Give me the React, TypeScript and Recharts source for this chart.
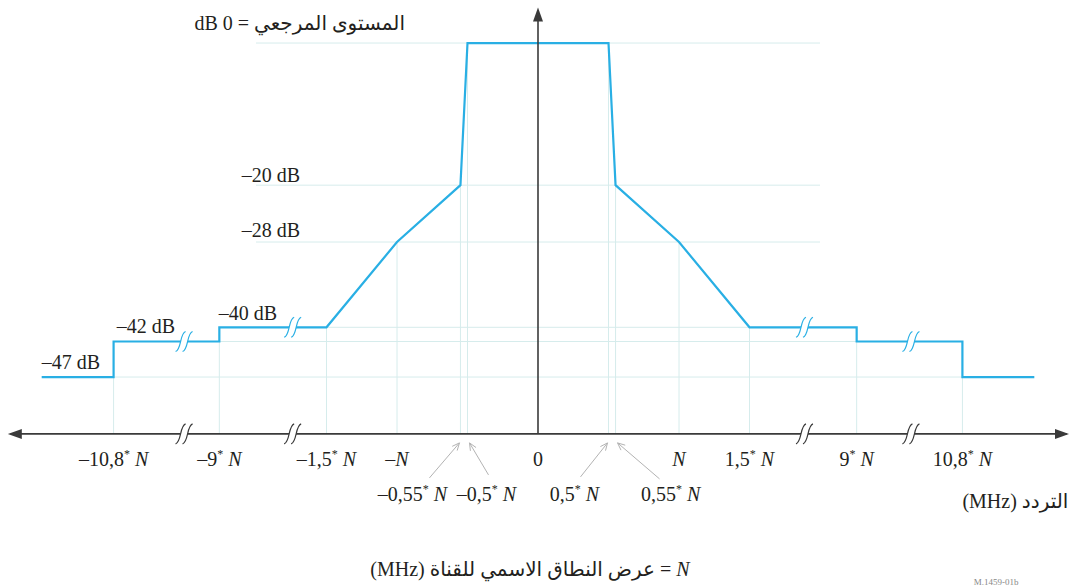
import React from 'react';
import { LineChart, Line, XAxis, YAxis, ReferenceLine, ReferenceDot } from 'recharts';

// Display positions on the (broken) frequency axis, in units of N near the centre
const maskX = [-3.52, -3.01, -3.01, -2.26, -2.26, -1.5, -1, -0.55, -0.5, 0.5, 0.55, 1, 1.5, 2.26, 2.26, 3.01, 3.01, 3.52];
// Mask level (dB)
const maskDb = [-47, -47, -42, -42, -40, -40, -28, -20, 0, 0, -20, -28, -40, -40, -42, -42, -47, -47];

const mainTicks = [-3.01, -2.26, -1.5, -1, 0, 1, 1.5, 2.26, 3.01];
const mainTickLabels = ['–10,8* N', '–9* N', '–1,5* N', '–N', '0', 'N', '1,5* N', '9* N', '10,8* N'];
const lowerTicks = [-0.55, -0.5, 0.5, 0.55];
const lowerTickLabels = ['–0,55* N', '–0,5* N', '0,5* N', '0,55* N'];

const gridLevels = [0, -20, -28, -40, -42, -47];
const gridSpan = [2.0, 2.0, 2.0, 1.5, 2.26, 3.01];
const vGridX = [-3.01, -2.26, -1.5, -1, -0.55, -0.5, 0.5, 0.55, 1, 1.5, 2.26, 3.01];
const vGridTop = [-42, -40, -40, -28, -20, 0, 0, -20, -28, -40, -40, -42];

const breakX = [-2.51, -1.74, 1.89, 2.645];
const breakLevel = [-42, -40, -40, -42];

const dbLabels = ['–47 dB', '–42 dB', '–40 dB', '–28 dB', '–20 dB'];
const dbLevels = [-47, -42, -40, -28, -20];

const titleText = 'dB 0 = المستوى المرجعي';
const freqText = '(MHz) التردد';
const captionText = '(MHz) عرض النطاق الاسمي للقناة = ';
const figId = 'M.1459-01b';

// layout (positions / styles only)
const X_DOMAIN: [number, number] = [-3.76, 3.78];
const Y_DOMAIN: [number, number] = [-55, 5];
const AXIS_MIN = -55;
const dbLabelX = [-3.106, -2.574, -1.851, -1.688, -1.688];
const dbLabelDy = [-8, -9, -7, -5, -3];
const lowerLayout = [
  { lx: -48, tx: -31, ty: 44, hx: -1 },
  { lx: 19, tx: 21, ty: 41, hx: 2 },
  { lx: -34, tx: -28, ty: 43, hx: -1 },
  { lx: 55, tx: 44, ty: 45, hx: 2 },
];

const CURVE = '#29afe4';
const AXIS = '#3a3a3a';
const GRID = '#d6ecec';
const TEXT = '#231f20';
const FONT = "'Liberation Serif', 'Times New Roman', 'DejaVu Serif', 'DejaVu Sans', serif";
const FS = 20;

const maskData = maskX.map((x, i) => ({ x, db: maskDb[i] }));

function labelSpans(s: string) {
  if (s.includes('*')) {
    const [num] = s.split('*');
    return [
      <tspan key="a">{num}</tspan>,
      <tspan key="b" fontSize={12} dy={-8}>*</tspan>,
      <tspan key="c" dy={8}>{' '}</tspan>,
      <tspan key="d" fontStyle="italic">N</tspan>,
    ];
  }
  if (s.endsWith('N')) {
    return [
      <tspan key="a">{s.slice(0, -1)}</tspan>,
      <tspan key="b" fontStyle="italic">N</tspan>,
    ];
  }
  return [<tspan key="a">{s}</tspan>];
}

const Tick = (props: any) => {
  const { x, y, payload } = props;
  const v = payload.value;
  const axisY = y - 8;
  const li = lowerTicks.indexOf(v);
  if (li >= 0) {
    const o = lowerLayout[li];
    const x1 = x + o.tx;
    const y1 = axisY + o.ty;
    const x2 = x + o.hx;
    const y2 = axisY + 9;
    const ang = Math.atan2(y2 - y1, x2 - x1);
    const hl = 8;
    const a = 0.42;
    const hx1 = x2 - hl * Math.cos(ang - a);
    const hy1 = y2 - hl * Math.sin(ang - a);
    const hx2 = x2 - hl * Math.cos(ang + a);
    const hy2 = y2 - hl * Math.sin(ang + a);
    return (
      <g>
        <line x1={x1} y1={y1} x2={x2} y2={y2} stroke="#b3b3b3" strokeWidth={1} />
        <polyline points={`${hx1},${hy1} ${x2},${y2} ${hx2},${hy2}`} fill="none" stroke="#b3b3b3" strokeWidth={1} />
        <text x={x + o.lx} y={axisY + 67} textAnchor="middle" fontFamily={FONT} fontSize={FS} fill={TEXT}>
          {labelSpans(lowerTickLabels[li])}
        </text>
      </g>
    );
  }
  const mi = mainTicks.indexOf(v);
  if (mi < 0) return <g />;
  return (
    <text x={x} y={axisY + 32} textAnchor="middle" fontFamily={FONT} fontSize={FS} fill={TEXT}>
      {labelSpans(mainTickLabels[mi])}
    </text>
  );
};

const breakShape = (color: string) => (p: any) => {
  const { cx, cy } = p;
  const t = `translate(${cx - 0.5},${cy})`;
  return (
    <g transform={t}>
      <path d="M -8 10 C -2 8 -4 -8 2 -10 L 9 -10 C 3 -8 5 8 -1 10 Z" fill="#ffffff" stroke="none" />
      <path d="M -8 10 C -2 8 -4 -8 2 -10" fill="none" stroke={color} strokeWidth={1.2} />
      <path d="M -1 10 C 5 8 3 -8 9 -10" fill="none" stroke={color} strokeWidth={1.2} />
    </g>
  );
};

const arrowShape = (dir: 'left' | 'right' | 'up') => (p: any) => {
  const { cx, cy } = p;
  let pts = '';
  if (dir === 'left') pts = `${cx},${cy} ${cx + 14},${cy - 5} ${cx + 14},${cy + 5}`;
  if (dir === 'right') pts = `${cx},${cy} ${cx - 14},${cy - 5} ${cx - 14},${cy + 5}`;
  if (dir === 'up') pts = `${cx},${cy} ${cx - 5},${cy + 14} ${cx + 5},${cy + 14}`;
  return <polygon points={pts} fill={AXIS} />;
};

const textShape = (txt: React.ReactNode, anchor: string, dy: number) => (p: any) => {
  const { cx, cy } = p;
  return (
    <text x={cx} y={cy + dy} textAnchor={anchor} fontFamily={FONT} fontSize={FS} fill={TEXT}>
      {txt}
    </text>
  );
};

export default function App() {
  return (
    <div style={{ position: 'absolute', left: 0, top: 0, width: 1089, height: 588, background: '#fff', overflow: 'hidden' }}>
      <LineChart
        width={1089}
        height={588}
        data={maskData}
        margin={{ top: 7.5, right: 18.02, bottom: 44.1, left: 7.84 }}
      >
        <XAxis
          dataKey="x"
          type="number"
          domain={X_DOMAIN}
          allowDataOverflow
          ticks={[...mainTicks, ...lowerTicks]}
          interval={0}
          axisLine={false}
          tickLine={false}
          height={110}
          tick={<Tick />}
        />
        <YAxis hide type="number" domain={Y_DOMAIN} allowDataOverflow />

        {gridLevels.map((lv, i) => (
          <ReferenceLine
            key={`h${i}`}
            segment={[{ x: -gridSpan[i], y: lv }, { x: gridSpan[i], y: lv }]}
            stroke={GRID}
            strokeWidth={1}
            ifOverflow="visible"
          />
        ))}
        {vGridX.map((gx, i) => (
          <ReferenceLine
            key={`v${i}`}
            segment={[{ x: gx, y: vGridTop[i] }, { x: gx, y: AXIS_MIN }]}
            stroke={GRID}
            strokeWidth={1}
            ifOverflow="visible"
          />
        ))}

        <Line
          dataKey="db"
          type="linear"
          stroke={CURVE}
          strokeWidth={2.2}
          dot={false}
          activeDot={false}
          isAnimationActive={false}
        />

        {breakX.map((bx, i) => (
          <ReferenceDot key={`bc${i}`} x={bx} y={breakLevel[i]} r={1} ifOverflow="visible" shape={breakShape(CURVE)} />
        ))}

        <ReferenceLine
          segment={[{ x: -3.74, y: AXIS_MIN }, { x: 3.75, y: AXIS_MIN }]}
          stroke={AXIS}
          strokeWidth={1.6}
          ifOverflow="visible"
        />
        <ReferenceLine
          segment={[{ x: 0, y: AXIS_MIN }, { x: 0, y: 4 }]}
          stroke={AXIS}
          strokeWidth={1.6}
          ifOverflow="visible"
        />
        <ReferenceDot x={-3.76} y={AXIS_MIN} r={1} ifOverflow="visible" shape={arrowShape('left')} />
        <ReferenceDot x={3.766} y={AXIS_MIN} r={1} ifOverflow="visible" shape={arrowShape('right')} />
        <ReferenceDot x={0} y={5} r={1} ifOverflow="visible" shape={arrowShape('up')} />

        {breakX.map((bx, i) => (
          <ReferenceDot key={`ba${i}`} x={bx} y={AXIS_MIN} r={1} ifOverflow="visible" shape={breakShape(AXIS)} />
        ))}

        {dbLabels.map((t, i) => (
          <ReferenceDot key={`l${i}`} x={dbLabelX[i]} y={dbLevels[i]} r={1} ifOverflow="visible" shape={textShape(t, 'end', dbLabelDy[i])} />
        ))}
        <ReferenceDot x={-0.943} y={0} r={1} ifOverflow="visible" shape={textShape(titleText, 'end', -13)} />
        <ReferenceDot x={3.01} y={AXIS_MIN} r={1} ifOverflow="visible" shape={textShape(freqText, 'start', 74)} />
        <ReferenceDot
          x={-0.057}
          y={AXIS_MIN}
          r={1}
          ifOverflow="visible"
          shape={textShape([<tspan key="a">{captionText}</tspan>, <tspan key="b" fontStyle="italic">N</tspan>], 'middle', 142)}
        />
        <ReferenceDot
          x={3.09}
          y={AXIS_MIN}
          r={1}
          ifOverflow="visible"
          shape={(p: any) => (
            <text x={p.cx} y={p.cy + 151} textAnchor="start" fontFamily={FONT} fontSize={9} fill="#888">
              {figId}
            </text>
          )}
        />
      </LineChart>
    </div>
  );
}
